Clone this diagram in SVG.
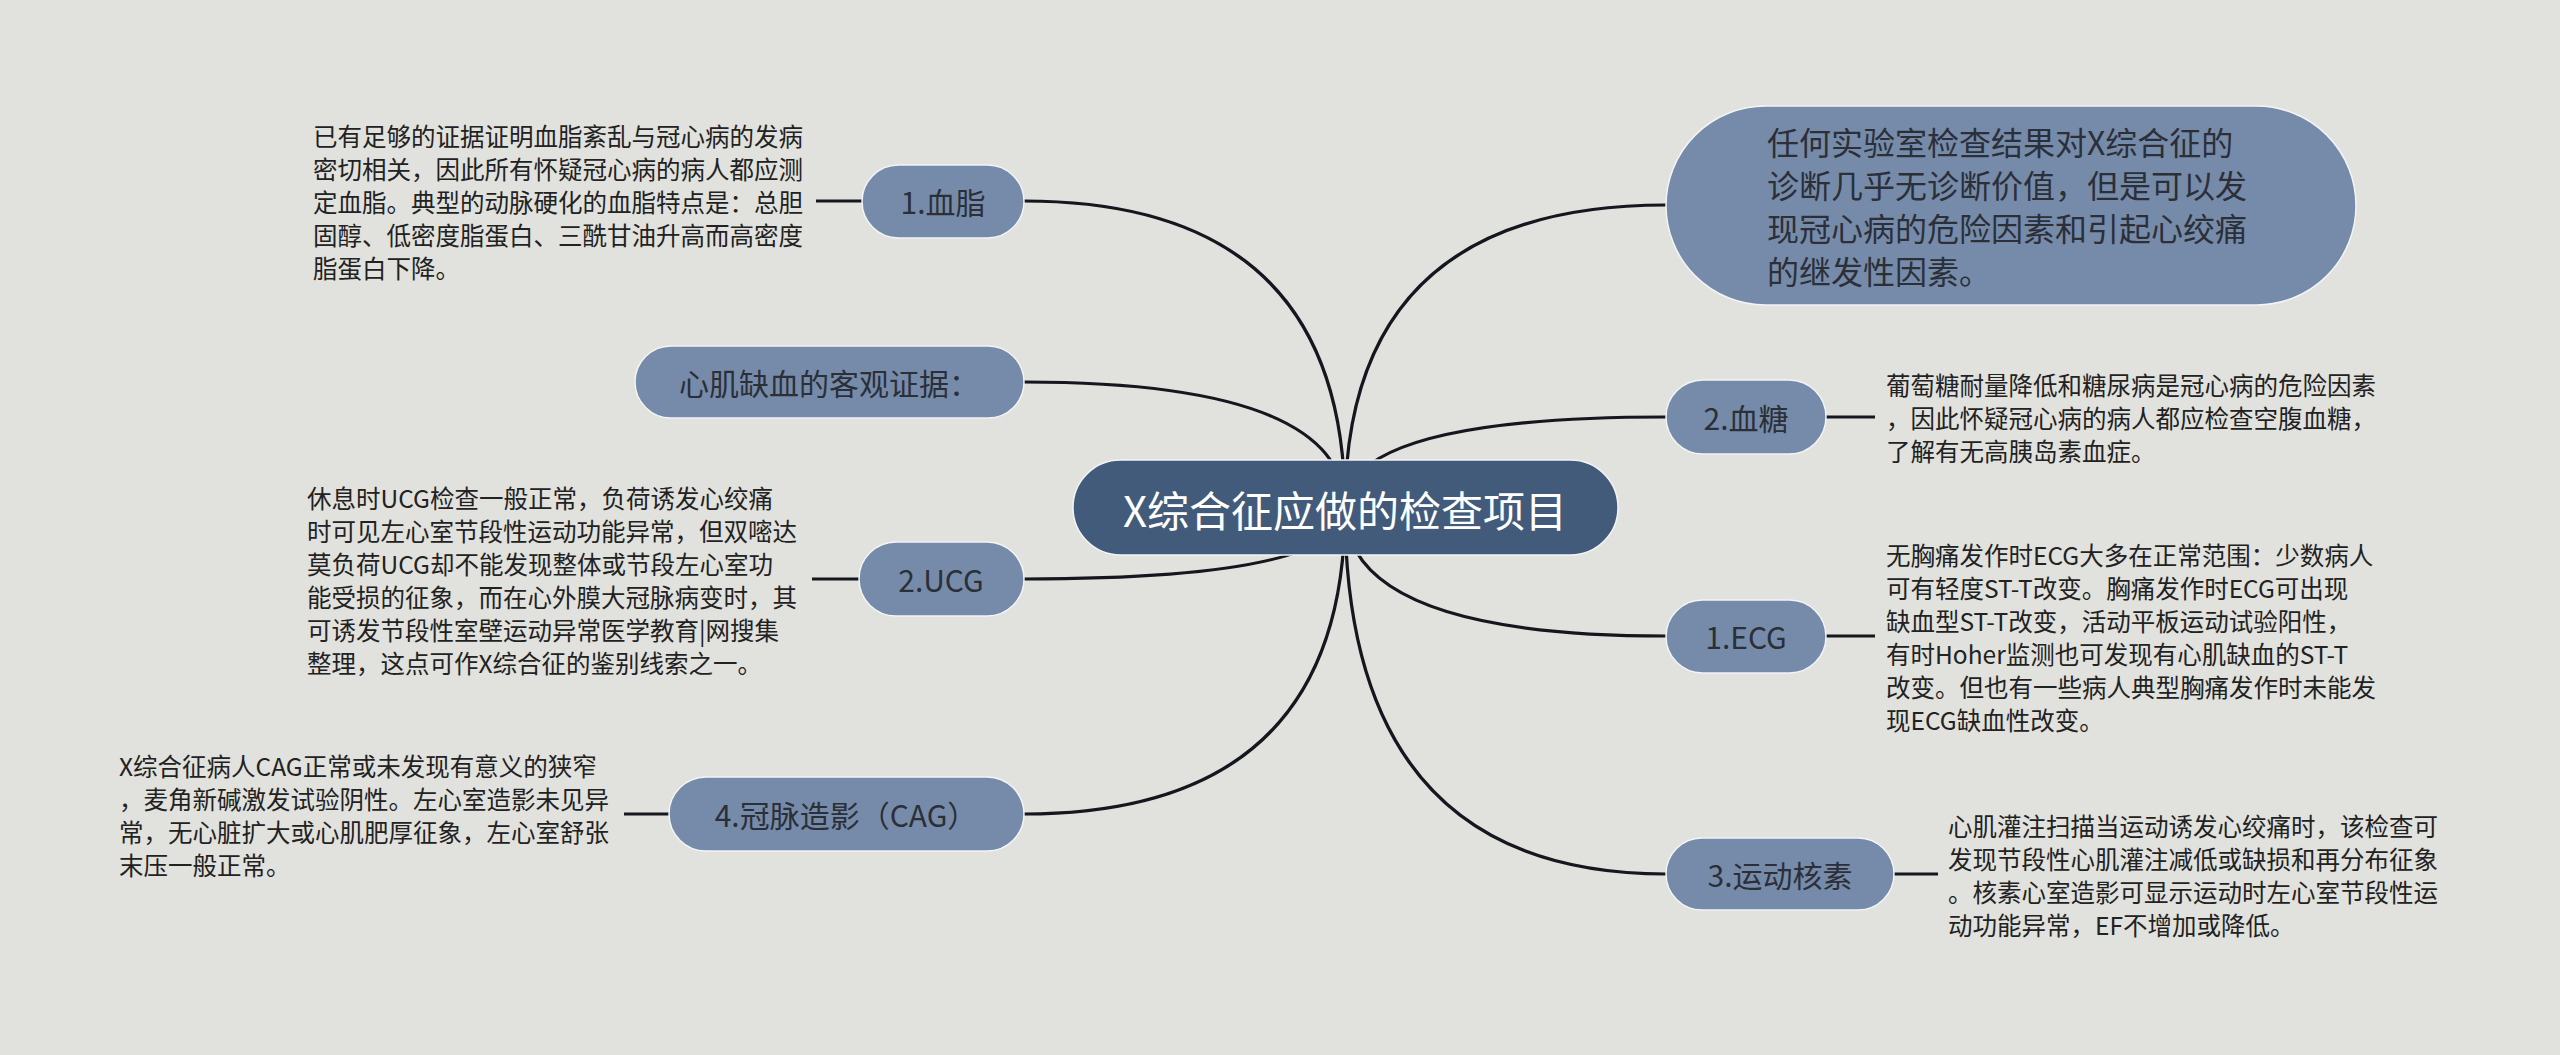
<svg xmlns="http://www.w3.org/2000/svg" width="2560" height="1055" viewBox="0 0 2560 1055">
<style>
.bg{fill:#e1e1dd}
.node rect{fill:#768ba9;stroke:#f2f4f7;stroke-width:1.5}
.root rect{fill:#435b7a;stroke:#f2f4f7;stroke-width:1.5}
.lbl{font-family:"Noto Sans CJK SC","Noto Sans",sans-serif;font-size:30px;fill:#2b2f38;text-anchor:middle;dominant-baseline:central}
.rootlbl{font-family:"Noto Sans CJK SC","Noto Sans",sans-serif;font-size:42px;fill:#ffffff;text-anchor:middle;dominant-baseline:central}
.big{font-family:"Noto Sans CJK SC","Noto Sans",sans-serif;font-size:32px;fill:#2b2f38}
.desc{font-family:"Noto Sans CJK SC","Noto Sans",sans-serif;font-size:24.5px;fill:#222222}
.conn path,.conn line{fill:none;stroke:#14171e;stroke-width:3.2}
</style>
<rect class="bg" x="0" y="0" width="2560" height="1055"/>
<g id="connectors" class="conn">
<path d="M1345 508 Q1345 201 1024 201"/>
<path d="M1345 508 Q1345 382 1024 382"/>
<path d="M1345 508 Q1345 579 1024 579"/>
<path d="M1345 508 Q1345 814 1024 814"/>
<path d="M1345 508 Q1345 205 1666 205"/>
<path d="M1345 508 Q1345 417 1666 417"/>
<path d="M1345 508 Q1345 636 1666 636"/>
<path d="M1345 508 Q1345 874 1666 874"/>
<line x1="816" y1="201" x2="862" y2="201"/>
<line x1="812" y1="579" x2="859" y2="579"/>
<line x1="624" y1="814" x2="669" y2="814"/>
<line x1="1826" y1="417" x2="1875" y2="417"/>
<line x1="1826" y1="636" x2="1875" y2="636"/>
<line x1="1894" y1="874" x2="1938" y2="874"/>
</g>
<g id="root" class="root">
<rect x="1073" y="460" width="545" height="95" rx="47.5"/>
<text class="rootlbl" x="1345" y="508">X综合征应做的检查项目</text>
</g>
<g id="n-xuezhi" class="node">
<rect x="862" y="165" width="162" height="73" rx="36.5"/>
<text class="lbl" x="943" y="201">1.血脂</text>
</g>
<g id="d-xuezhi">
<text class="desc"><tspan x="313" y="146">已有足够的证据证明血脂紊乱与冠心病的发病</tspan><tspan x="313" dy="33">密切相关，因此所有怀疑冠心病的病人都应测</tspan><tspan x="313" dy="33">定血脂。典型的动脉硬化的血脂特点是：总胆</tspan><tspan x="313" dy="33">固醇、低密度脂蛋白、三酰甘油升高而高密度</tspan><tspan x="313" dy="33">脂蛋白下降。</tspan></text>
</g>
<g id="n-xinji" class="node">
<rect x="635" y="346" width="389" height="72" rx="36"/>
<text class="lbl" x="829" y="382">心肌缺血的客观证据：</text>
</g>
<g id="n-ucg" class="node">
<rect x="859" y="542" width="165" height="74" rx="37"/>
<text class="lbl" x="941" y="579">2.UCG</text>
</g>
<g id="d-ucg">
<text class="desc"><tspan x="307" y="507.5">休息时UCG检查一般正常，负荷诱发心绞痛</tspan><tspan x="307" dy="33">时可见左心室节段性运动功能异常，但双嘧达</tspan><tspan x="307" dy="33">莫负荷UCG却不能发现整体或节段左心室功</tspan><tspan x="307" dy="33">能受损的征象，而在心外膜大冠脉病变时，其</tspan><tspan x="307" dy="33">可诱发节段性室壁运动异常医学教育|网搜集</tspan><tspan x="307" dy="33">整理，这点可作X综合征的鉴别线索之一。</tspan></text>
</g>
<g id="n-cag" class="node">
<rect x="669" y="777" width="355" height="74" rx="37"/>
<text class="lbl" x="846" y="814">4.冠脉造影（CAG）</text>
</g>
<g id="d-cag">
<text class="desc"><tspan x="119" y="775.5">X综合征病人CAG正常或未发现有意义的狭窄</tspan><tspan x="119" dy="33">，麦角新碱激发试验阴性。左心室造影未见异</tspan><tspan x="119" dy="33">常，无心脏扩大或心肌肥厚征象，左心室舒张</tspan><tspan x="119" dy="33">末压一般正常。</tspan></text>
</g>
<g id="n-lab" class="node">
<rect x="1666" y="106" width="690" height="199" rx="99.5"/>
<text class="big"><tspan x="1767" y="154.5">任何实验室检查结果对X综合征的</tspan><tspan x="1767" dy="43">诊断几乎无诊断价值，但是可以发</tspan><tspan x="1767" dy="43">现冠心病的危险因素和引起心绞痛</tspan><tspan x="1767" dy="43">的继发性因素。</tspan></text>
</g>
<g id="n-xuetang" class="node">
<rect x="1666" y="380" width="160" height="74" rx="37"/>
<text class="lbl" x="1746" y="417">2.血糖</text>
</g>
<g id="d-xuetang">
<text class="desc"><tspan x="1886" y="395">葡萄糖耐量降低和糖尿病是冠心病的危险因素</tspan><tspan x="1886" dy="33">，因此怀疑冠心病的病人都应检查空腹血糖，</tspan><tspan x="1886" dy="33">了解有无高胰岛素血症。</tspan></text>
</g>
<g id="n-ecg" class="node">
<rect x="1666" y="600" width="160" height="73" rx="36.5"/>
<text class="lbl" x="1746" y="636">1.ECG</text>
</g>
<g id="d-ecg">
<text class="desc"><tspan x="1886" y="564.5">无胸痛发作时ECG大多在正常范围：少数病人</tspan><tspan x="1886" dy="33">可有轻度ST-T改变。胸痛发作时ECG可出现</tspan><tspan x="1886" dy="33">缺血型ST-T改变，活动平板运动试验阳性，</tspan><tspan x="1886" dy="33">有时Hoher监测也可发现有心肌缺血的ST-T</tspan><tspan x="1886" dy="33">改变。但也有一些病人典型胸痛发作时未能发</tspan><tspan x="1886" dy="33">现ECG缺血性改变。</tspan></text>
</g>
<g id="n-hesu" class="node">
<rect x="1666" y="838" width="228" height="72" rx="36"/>
<text class="lbl" x="1780" y="874">3.运动核素</text>
</g>
<g id="d-hesu">
<text class="desc"><tspan x="1948" y="835.5">心肌灌注扫描当运动诱发心绞痛时，该检查可</tspan><tspan x="1948" dy="33">发现节段性心肌灌注减低或缺损和再分布征象</tspan><tspan x="1948" dy="33">。核素心室造影可显示运动时左心室节段性运</tspan><tspan x="1948" dy="33">动功能异常，EF不增加或降低。</tspan></text>
</g>
</svg>
